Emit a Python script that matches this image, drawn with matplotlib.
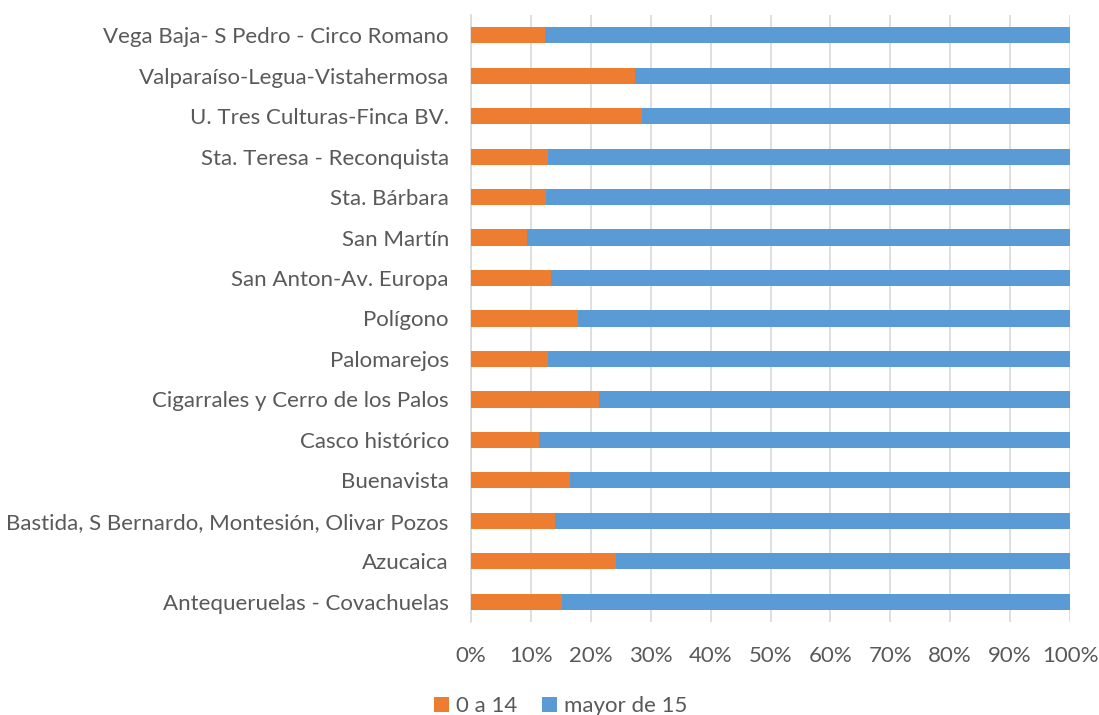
import numpy as np
import matplotlib.pyplot as plt
from matplotlib.ticker import PercentFormatter

plt.rcParams['font.family'] = ['Lato', 'DejaVu Sans']

barrios = [
    "Antequeruelas - Covachuelas",
    "Azucaica",
    "Bastida, S Bernardo, Montesión, Olivar Pozos",
    "Buenavista",
    "Casco histórico",
    "Cigarrales y Cerro de los Palos",
    "Palomarejos",
    "Polígono",
    "San Anton-Av. Europa",
    "San Martín",
    "Sta. Bárbara",
    "Sta. Teresa - Reconquista",
    "U. Tres Culturas-Finca BV.",
    "Valparaíso-Legua-Vistahermosa",
    "Vega Baja- S Pedro - Circo Romano",
]
# share of population aged 0-14 (%)
ninos = [15.2, 24.2, 14.1, 16.6, 11.4, 21.4, 12.8, 17.9, 13.4, 9.4, 12.6, 12.8, 28.5, 27.3, 12.4]
mayores = [100 - v for v in ninos]

naranja = '#ED7D31'
azul = '#5B9BD5'
gris = '#595959'

fig = plt.figure(figsize=(10.99, 7.15), dpi=100)
ax = fig.add_axes([471 / 1099, 1 - 622 / 715, 599 / 1099, 607 / 715])

y = np.arange(len(barrios))
ax.barh(y, ninos, height=0.4, color=naranja, label='0 a 14', zorder=3)
ax.barh(y, mayores, left=ninos, height=0.4, color=azul, label='mayor de 15', zorder=3)

ax.set_xlim(0, 100)
ax.set_ylim(-0.5, len(barrios) - 0.5)
ax.set_xticks(np.arange(0, 101, 10))
ax.xaxis.set_major_formatter(PercentFormatter(decimals=0))
ax.set_yticks(y)
ax.set_yticklabels(barrios)
ax.grid(axis='x', color='#D9D9D9', linewidth=1.2, zorder=0)
for s in ['top', 'right', 'bottom']:
    ax.spines[s].set_visible(False)
ax.spines['left'].set_color('#D9D9D9')
ax.spines['left'].set_linewidth(1.2)
ax.tick_params(axis='both', length=0, labelsize=16, colors=gris)
ax.tick_params(axis='x', pad=17)
ax.tick_params(axis='y', pad=16)

fig.legend(loc='lower center', ncol=2, frameon=False, fontsize=16,
           labelcolor=gris, handlelength=0.7, handleheight=0.7,
           handletextpad=0.3, columnspacing=1.1,
           bbox_to_anchor=(0.51, -0.03))

fig.savefig('out.png', dpi=100)
